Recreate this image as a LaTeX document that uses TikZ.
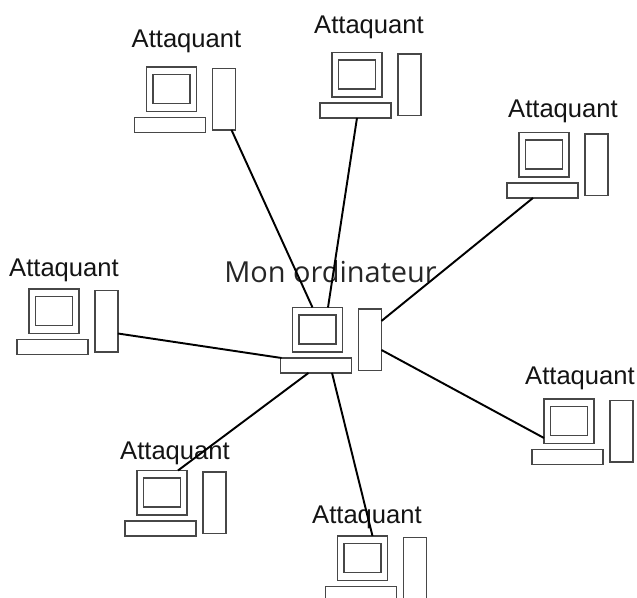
\documentclass[tikz,border=0pt]{standalone}
\usepackage{fontspec}
\setmainfont{Liberation Sans}
\newfontfamily\titlefont{Open Sans}
\usetikzlibrary{calc}
\tikzset{
  part/.style={draw=black!72,line width=1pt,fill=white,inner sep=0pt,outer sep=0pt,rectangle,anchor=north west},
  monitorbox/.style={part,minimum width=37.5pt,minimum height=33.4pt},
  screenbox/.style={part,minimum width=27.7pt,minimum height=21.7pt},
  keybox/.style={part,minimum width=53.2pt,minimum height=11.2pt},
  towerbox/.style={part,minimum width=17.2pt,minimum height=46.1pt},
  attacklabel/.style={font=\fontsize{19.2pt}{22pt}\selectfont,text=black!92,inner sep=0pt},
  titlelabel/.style={font=\titlefont\fontsize{21.7pt}{25pt}\selectfont,text=black!85,inner sep=0pt},
  link/.style={draw=black,line width=1.45pt}
}
\newcommand{\computer}[3]{%
  \node[monitorbox] (#1m) at (#2,#3) {};
  \node[screenbox] (#1s) at (#2+6.5,#3+7.5) {};
  \node[keybox] (#1k) at (#2-12,#3+50.5) {};
  \node[towerbox] (#1t) at (#2+66,#3+1.5) {};
}
\begin{document}
\begin{tikzpicture}[x=0.75pt,y=-0.75pt]
\useasboundingbox (0,0) rectangle (637,598);
\clip (0,0) rectangle (637,598);
\fill[white] (0,0) rectangle (637,598);
\node[titlelabel] (clabel) at (330.5,272) {Mon ordinateur};
\node[attacklabel] (l1) at (186.5,41) {Attaquant};
\node[attacklabel] (l2) at (369,27) {Attaquant};
\node[attacklabel] (l3) at (563,111) {Attaquant};
\node[attacklabel] (l4) at (64,270) {Attaquant};
\node[attacklabel] (l5) at (580,378) {Attaquant};
\node[attacklabel] (l6) at (175,453) {Attaquant};
\node[attacklabel] (l7) at (367,517) {Attaquant};
\computer{c}{292.5}{307.5}
\computer{a}{146.5}{67}
\computer{b}{332}{52.5}
\computer{d}{519}{132.5}
\computer{e}{29}{289}
\computer{f}{544}{399}
\computer{g}{137}{470.5}
\computer{h}{337.5}{536}
\draw[link] ($(at.south west)+(19,0)$) -- ($(cm.north west)+(20,0)$);
\draw[link] ($(bk.south west)+(37,0)$) -- ($(cm.north west)+(35.5,0)$);
\draw[link] ($(dk.south west)+(26,0)$) -- ($(ct.north east)+(0,12)$);
\draw[link] ($(et.north east)+(0,43)$) -- ($(ck.north west)+(1,0)$);
\draw[link] ($(fm.north west)+(0,39)$) -- ($(ct.south east)+(0,-20.5)$);
\draw[link] ($(gm.north west)+(41,0)$) -- ($(ck.south west)+(28,0)$);
\draw[link] ($(hm.north west)+(35,0)$) -- ($(ck.south west)+(51.5,0)$);
\end{tikzpicture}
\end{document}
